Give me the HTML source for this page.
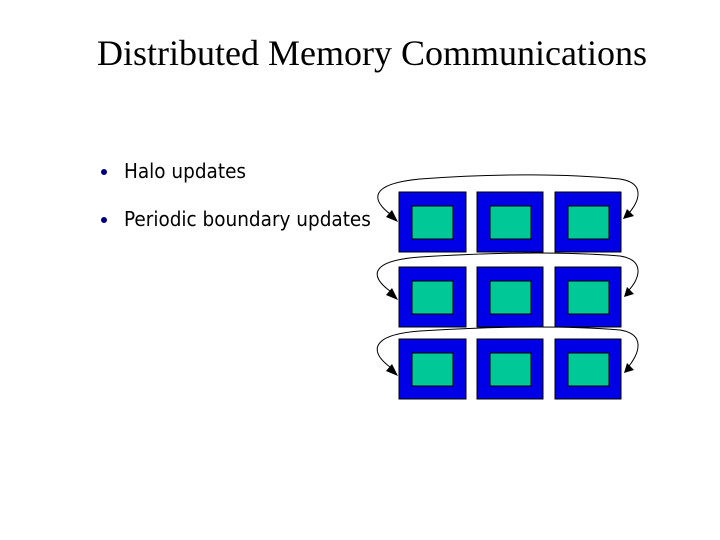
<!DOCTYPE html>
<html><head><style>
body{margin:0;width:720px;height:540px;background:#fff;position:relative;overflow:hidden}
.t{position:absolute;left:97px;top:32px;font:36px "Liberation Serif",serif;color:#000;white-space:nowrap}
.b{position:absolute;left:124px;font:20.5px "DejaVu Sans Condensed","Liberation Sans",sans-serif;color:#000;white-space:nowrap}
.d{position:absolute;left:101px;width:6px;height:6px;border-radius:50%;background:#000080}
</style></head><body>
<div class="t">Distributed Memory Communications</div>
<div class="d" style="top:169px"></div><div class="b" style="top:159px">Halo updates</div>
<div class="d" style="top:217px"></div><div class="b" style="top:207px">Periodic boundary updates</div>
<svg width="720" height="540" style="position:absolute;left:0;top:0">
<g stroke="#000" stroke-width="1">
<g fill="#0000e6">
<rect x="399" y="192" width="67" height="60"/><rect x="477" y="192" width="66" height="60"/><rect x="555" y="192" width="66" height="60"/>
<rect x="399" y="267" width="67" height="60"/><rect x="477" y="267" width="66" height="60"/><rect x="555" y="267" width="66" height="60"/>
<rect x="399" y="339" width="67" height="60"/><rect x="477" y="339" width="66" height="60"/><rect x="555" y="339" width="66" height="60"/>
</g>
<g fill="#00c896">
<rect x="412" y="206" width="41" height="33"/><rect x="490" y="206" width="41" height="33"/><rect x="568" y="206" width="41" height="33"/>
<rect x="412" y="281" width="41" height="33"/><rect x="490" y="281" width="41" height="33"/><rect x="568" y="281" width="41" height="33"/>
<rect x="412" y="353" width="41" height="33"/><rect x="490" y="353" width="41" height="33"/><rect x="568" y="353" width="41" height="33"/>
</g>
<g fill="none">
<path d="M390,214 C372,200 368,184 420,179 C500,173 570,174 620,179 C645,183 640,200 629,213"/>
<path d="M390,291 C372,278 366,261 420,257 C500,252 570,252 620,256 C645,260 640,278 629,290"/>
<path d="M390,367 C372,354 366,335 420,331 C500,326 570,326 620,330 C645,334 640,352 629,366"/>
</g>
<g fill="#000" stroke="none">
<polygon points="398,222 386,217 392,210"/>
<polygon points="623,219 627,209 634,216"/>
<polygon points="398,300 386,295 392,288"/>
<polygon points="624,297 627,287 634,294"/>
<polygon points="398,376 386,371 392,364"/>
<polygon points="624,373 627,363 634,370"/>
</g></g>
</svg>
</body></html>
